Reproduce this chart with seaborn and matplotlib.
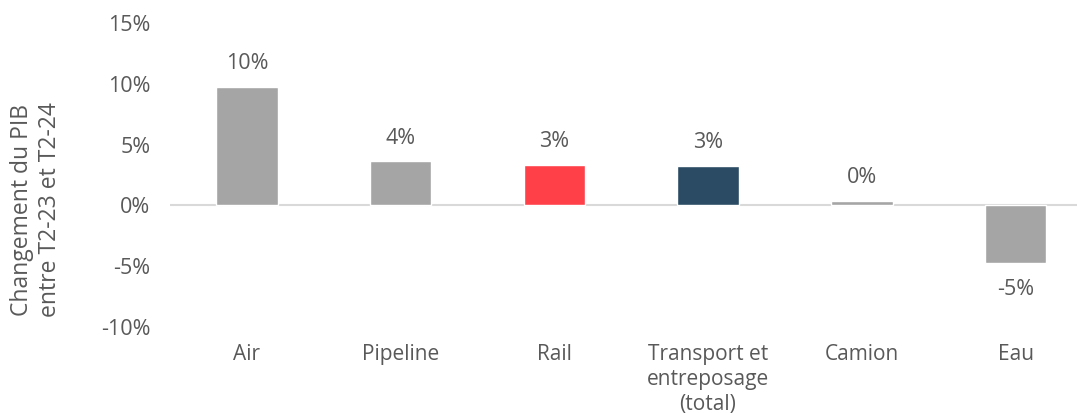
import matplotlib
matplotlib.use("Agg")
import matplotlib.pyplot as plt
import seaborn as sns
import pandas as pd

categories = ["Air", "Pipeline", "Rail", "Transport et\nentreposage\n(total)", "Camion", "Eau"]
values = [9.75, 3.65, 3.35, 3.25, 0.4, -4.7]
labels = ["10%", "4%", "3%", "3%", "0%", "-5%"]
colors = ["#A5A5A5", "#A5A5A5", "#FF4049", "#2A4B63", "#A5A5A5", "#A5A5A5"]
yticks = [-10, -5, 0, 5, 10, 15]

sns.set_theme(style="white")
plt.rcParams["font.family"] = ["Open Sans", "DejaVu Sans"]
txt = "#595959"
fs = 15.5

df = pd.DataFrame({"cat": categories, "val": values})
fig = plt.figure(figsize=(10.77, 4.13), dpi=100)
ax = fig.add_axes([170/1077, 1-327/413, 1-170/1077, (327-23)/413])
sns.barplot(data=df, x="cat", y="val", hue="cat", palette=colors, legend=False,
            width=0.4, ax=ax, saturation=1)
ax.set_ylim(-10, 15)
ax.set_xlim(-0.5, 5.4)
ax.set_yticks(yticks)
ax.set_yticklabels([f"{t}%" for t in yticks], fontsize=fs, color=txt)
ax.tick_params(axis="y", length=0, pad=14)
ax.set_xticks([])
ax.set_xlabel("")
ax.set_ylabel("Changement du PIB\nentre T2-23 et T2-24", fontsize=fs + 1, color=txt,
              linespacing=1.2)
ax.yaxis.set_label_coords(-0.119, 0.385)
for s in ax.spines.values():
    s.set_visible(False)
ax.axhline(0, color="#D9D9D9", lw=1.5, zorder=0.5)
for i, (c, v, l) in enumerate(zip(categories, values, labels)):
    if v >= 0:
        ax.annotate(l, (i, v), xytext=(0, 9), textcoords="offset points",
                    ha="center", va="bottom", fontsize=fs, color=txt)
    else:
        ax.annotate(l, (i, v), xytext=(0, -12), textcoords="offset points",
                    ha="center", va="top", fontsize=fs, color=txt)
    ax.text(i, -11.4, c, ha="center", va="top", fontsize=fs - 0.5, color=txt,
            linespacing=1.25)
fig.savefig("out.png", dpi=100)
